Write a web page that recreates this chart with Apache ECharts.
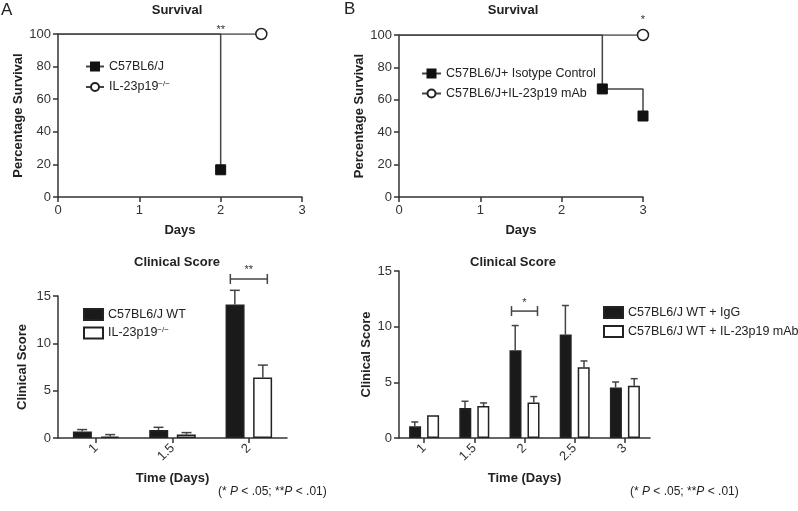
<!DOCTYPE html>
<html><head><meta charset="utf-8">
<script src="https://cdn.jsdelivr.net/npm/echarts@6/dist/echarts.min.js"></script>
<style>html,body{margin:0;padding:0;background:#fff}#c{width:798px;height:511px}</style>
</head><body><div id="c"></div>
<script>
// ---------- data ----------
const survivalA_WT = [[0,100],[2,100],[2,16.7]];
const survivalA_KO = [[0,100],[2.5,100]];
const survivalB_Iso = [[0,100],[2.5,100],[2.5,66.7],[3,66.7],[3,50]];
const survivalB_mAb = [[0,100],[3,100]];
const survivalSigA = [[2,100,'**']];
const survivalSigB = [[3,100,'*']];

const scoreA_days = ['1','1.5','2'];
const scoreA_WT = [0.68,0.85,14.1];
const scoreA_WT_err = [0.21,0.28,1.5];
const scoreA_KO = [0.15,0.36,6.39];
const scoreA_KO_err = [0.21,0.21,1.31];
const scoreSigA = [[2,16.8,'**']];

const scoreB_days = ['1','1.5','2','2.5','3'];
const scoreB_IgG = [1.05,2.7,7.88,9.29,4.53];
const scoreB_IgG_err = [0.39,0.6,2.22,2.61,0.5];
const scoreB_mAb = [2.04,2.87,3.18,6.35,4.7];
const scoreB_mAb_err = [0,0.28,0.54,0.57,0.63];
const scoreSigB = [[2,11.4,'*']];

const daysTicks = [0,1,2,3];
const survivalTicks = [0,20,40,60,80,100];
const scoreTicks = [0,5,10,15];

// ---------- style ----------
const FONT = 'Liberation Sans, Arial, Helvetica, sans-serif';
const AX = '#333';
const LINE = '#444';

function kmData(pts){
  return pts.map((p,i)=>{
    const last = i===pts.length-1;
    const drop = i>0 && p[1]!==pts[i-1][1];
    return (last||drop) ? {value:p} : {value:p, symbol:'none'};
  });
}

function valueAxis(grid, min, max, interval, name, gap){
  return {
    type:'value', gridIndex:grid, min, max, interval,
    name, nameLocation:'middle', nameGap:gap,
    nameTextStyle:{fontFamily:FONT,fontWeight:'bold',fontSize:13,color:'#222'},
    axisLine:{show:true,lineStyle:{color:AX,width:1.5}},
    axisTick:{show:true,length:5,lineStyle:{color:AX,width:1.5}},
    axisLabel:{fontFamily:FONT,fontSize:13,color:'#333',margin:7},
    splitLine:{show:false}
  };
}
function catAxis(grid, cats, name){
  return {
    type:'category', gridIndex:grid, data:cats, boundaryGap:true,
    name, nameLocation:'middle', nameGap:34,
    nameTextStyle:{fontFamily:FONT,fontWeight:'bold',fontSize:13,color:'#222'},
    axisLine:{lineStyle:{color:AX,width:1.5}},
    axisTick:{show:true,alignWithLabel:true,length:5,interval:0,lineStyle:{color:AX,width:1.5}},
    axisLabel:{fontFamily:FONT,fontSize:13,color:'#333',rotate:45,margin:8,interval:0},
    splitLine:{show:false}
  };
}

function kmSeries(name, pts, xi, yi, symbol, size){
  return {
    type:'line', name, xAxisIndex:xi, yAxisIndex:yi, data:kmData(pts),
    symbol, symbolSize:size, showAllSymbol:true,
    lineStyle:{color:LINE,width:1.5},
    itemStyle: symbol==='rect' ? {color:'#111',borderColor:'#111',borderWidth:1}
                                : {color:'#fff',borderColor:'#222',borderWidth:1.5},
    emphasis:{disabled:true}, animation:false, z:3
  };
}

function barSeries(name, vals, xi, yi, fill, bw, gap){
  return {
    type:'bar', name, xAxisIndex:xi, yAxisIndex:yi, data:vals,
    barWidth:bw, barGap:gap,
    itemStyle:{color:fill,borderColor:'#222',borderWidth:1.5},
    emphasis:{disabled:true}, animation:false
  };
}

function errSeries(vals, errs, xi, yi, off, cap){
  return {
    type:'custom', xAxisIndex:xi, yAxisIndex:yi, animation:false, z:5,
    data: vals.map((v,i)=>[i, v, errs[i]]),
    encode:{x:0,y:1},
    renderItem:(params, api)=>{
      const i = api.value(0), m = api.value(1), e = api.value(2);
      if(!(e>0)) return null;
      const p0 = api.coord([i,m]), p1 = api.coord([i,m+e]);
      const x = p0[0]+off;
      const st = {stroke:LINE,lineWidth:1.5};
      return {type:'group',children:[
        {type:'line',shape:{x1:x,y1:p0[1],x2:x,y2:p1[1]},style:st},
        {type:'line',shape:{x1:x-cap,y1:p1[1],x2:x+cap,y2:p1[1]},style:st}
      ]};
    }
  };
}

function bracketSeries(data, xi, yi, half){
  return {
    type:'custom', xAxisIndex:xi, yAxisIndex:yi, animation:false, z:6, clip:false,
    data, encode:{x:0,y:1},
    renderItem:(params, api)=>{
      const p = api.coord([api.value(0), api.value(1)]);
      const st = {stroke:LINE,lineWidth:1.5};
      return {type:'group',children:[
        {type:'line',shape:{x1:p[0]-half,y1:p[1],x2:p[0]+half,y2:p[1]},style:st},
        {type:'line',shape:{x1:p[0]-half,y1:p[1]-5,x2:p[0]-half,y2:p[1]+5},style:st},
        {type:'line',shape:{x1:p[0]+half,y1:p[1]-5,x2:p[0]+half,y2:p[1]+5},style:st},
        {type:'text',style:{text:data[params.dataIndex][2],x:p[0],y:p[1]-3,align:'center',verticalAlign:'bottom',fontSize:11,fontFamily:FONT,fill:'#333'}}
      ]};
    }
  };
}

function starSeries(data, xi, yi, dy){
  return {
    type:'custom', xAxisIndex:xi, yAxisIndex:yi, animation:false, z:6, clip:false,
    data, encode:{x:0,y:1},
    renderItem:(params, api)=>{
      const p = api.coord([api.value(0), api.value(1)]);
      return {type:'text',style:{text:data[params.dataIndex][2],x:p[0],y:p[1]-dy,align:'center',verticalAlign:'middle',fontSize:11,fontFamily:FONT,fill:'#333'}};
    }
  };
}

const supFmt = n => n.replace('−/−','{sup|−/−}');
const legendText = {fontFamily:FONT,fontSize:12.5,color:'#222',rich:{sup:{fontSize:8,verticalAlign:'top',fontFamily:FONT,color:'#222',padding:[0,0,6,0]}}};

const option = {
  animation:false,
  grid:[
    {left:58,top:34,width:244,height:163},
    {left:399,top:35,width:244,height:162},
    {left:58,top:296,width:229,height:142},
    {left:399,top:271,width:251,height:167}
  ],
  xAxis:[
    valueAxis(0,daysTicks[0],daysTicks[daysTicks.length-1],1,'Days',27),
    valueAxis(1,daysTicks[0],daysTicks[daysTicks.length-1],1,'Days',27),
    catAxis(2, scoreA_days, 'Time (Days)'),
    catAxis(3, scoreB_days, 'Time (Days)')
  ],
  yAxis:[
    valueAxis(0,survivalTicks[0],survivalTicks[survivalTicks.length-1],20,'Percentage Survival',28),
    valueAxis(1,survivalTicks[0],survivalTicks[survivalTicks.length-1],20,'Percentage Survival',28),
    valueAxis(2,scoreTicks[0],scoreTicks[scoreTicks.length-1],5,'Clinical Score',29),
    valueAxis(3,scoreTicks[0],scoreTicks[scoreTicks.length-1],5,'Clinical Score',26)
  ],
  legend:[
    {data:['C57BL6/J','IL-23p19−/−'],left:80,top:55,orient:'vertical',itemWidth:18,itemHeight:10,itemGap:7,textStyle:legendText,formatter:supFmt,selectedMode:false},
    {data:['C57BL6/J+ Isotype Control','C57BL6/J+IL-23p19 mAb'],left:416,top:62,orient:'vertical',itemWidth:19,itemHeight:10,itemGap:7,textStyle:legendText,selectedMode:false},
    {data:['C57BL6/J WT','IL-23p19−/− '],left:78,top:303,orient:'vertical',icon:'rect',itemWidth:19,itemHeight:11,itemGap:5,textStyle:legendText,formatter:supFmt,selectedMode:false},
    {data:['C57BL6/J WT + IgG','C57BL6/J WT + IL-23p19 mAb'],left:598,top:301,orient:'vertical',icon:'rect',itemWidth:19,itemHeight:11,itemGap:6,textStyle:legendText,selectedMode:false}
  ],
  series:[
    kmSeries('C57BL6/J', survivalA_WT, 0, 0, 'rect', 10),
    kmSeries('IL-23p19−/−', survivalA_KO, 0, 0, 'circle', 11),
    starSeries(survivalSigA, 0, 0, 4),
    kmSeries('C57BL6/J+ Isotype Control', survivalB_Iso, 1, 1, 'rect', 10),
    kmSeries('C57BL6/J+IL-23p19 mAb', survivalB_mAb, 1, 1, 'circle', 11),
    starSeries(survivalSigB, 1, 1, 15),
    barSeries('C57BL6/J WT', scoreA_WT, 2, 2, '#1a1a1a', 19, '45%'),
    barSeries('IL-23p19−/− ', scoreA_KO, 2, 2, '#ffffff', 19, '45%'),
    errSeries(scoreA_WT, scoreA_WT_err, 2, 2, -14, 5),
    errSeries(scoreA_KO, scoreA_KO_err, 2, 2, 14, 5),
    bracketSeries(scoreSigA, 2, 2, 18.5),
    barSeries('C57BL6/J WT + IgG', scoreB_IgG, 3, 3, '#1a1a1a', 12, '50%'),
    barSeries('C57BL6/J WT + IL-23p19 mAb', scoreB_mAb, 3, 3, '#ffffff', 12, '50%'),
    errSeries(scoreB_IgG, scoreB_IgG_err, 3, 3, -9.3, 3.5),
    errSeries(scoreB_mAb, scoreB_mAb_err, 3, 3, 9.3, 3.5),
    bracketSeries(scoreSigB, 3, 3, 13)
  ],
  graphic:[
    {type:'text',x:1,y:2,style:{text:'A',font:'17px '+FONT,fill:'#222'}},
    {type:'text',x:344,y:1,style:{text:'B',font:'17px '+FONT,fill:'#222'}},
    {type:'text',x:177,y:10,style:{text:'Survival',align:'center',verticalAlign:'middle',font:'bold 13px '+FONT,fill:'#222'}},
    {type:'text',x:513,y:10,style:{text:'Survival',align:'center',verticalAlign:'middle',font:'bold 13px '+FONT,fill:'#222'}},
    {type:'text',x:177,y:262,style:{text:'Clinical Score',align:'center',verticalAlign:'middle',font:'bold 13px '+FONT,fill:'#222'}},
    {type:'text',x:513,y:262,style:{text:'Clinical Score',align:'center',verticalAlign:'middle',font:'bold 13px '+FONT,fill:'#222'}},
    {type:'text',x:218,y:492,style:{text:'(* {i|P} < .05; **{i|P} < .01)',verticalAlign:'middle',font:'12px '+FONT,fill:'#222',rich:{i:{fontStyle:'italic',fontSize:12,fontFamily:FONT}}}},
    {type:'text',x:630,y:492,style:{text:'(* {i|P} < .05; **{i|P} < .01)',verticalAlign:'middle',font:'12px '+FONT,fill:'#222',rich:{i:{fontStyle:'italic',fontSize:12,fontFamily:FONT}}}}
  ]
};
const chart = echarts.init(document.getElementById('c'),null,{renderer:'canvas'});
chart.setOption(option);
</script></body></html>
